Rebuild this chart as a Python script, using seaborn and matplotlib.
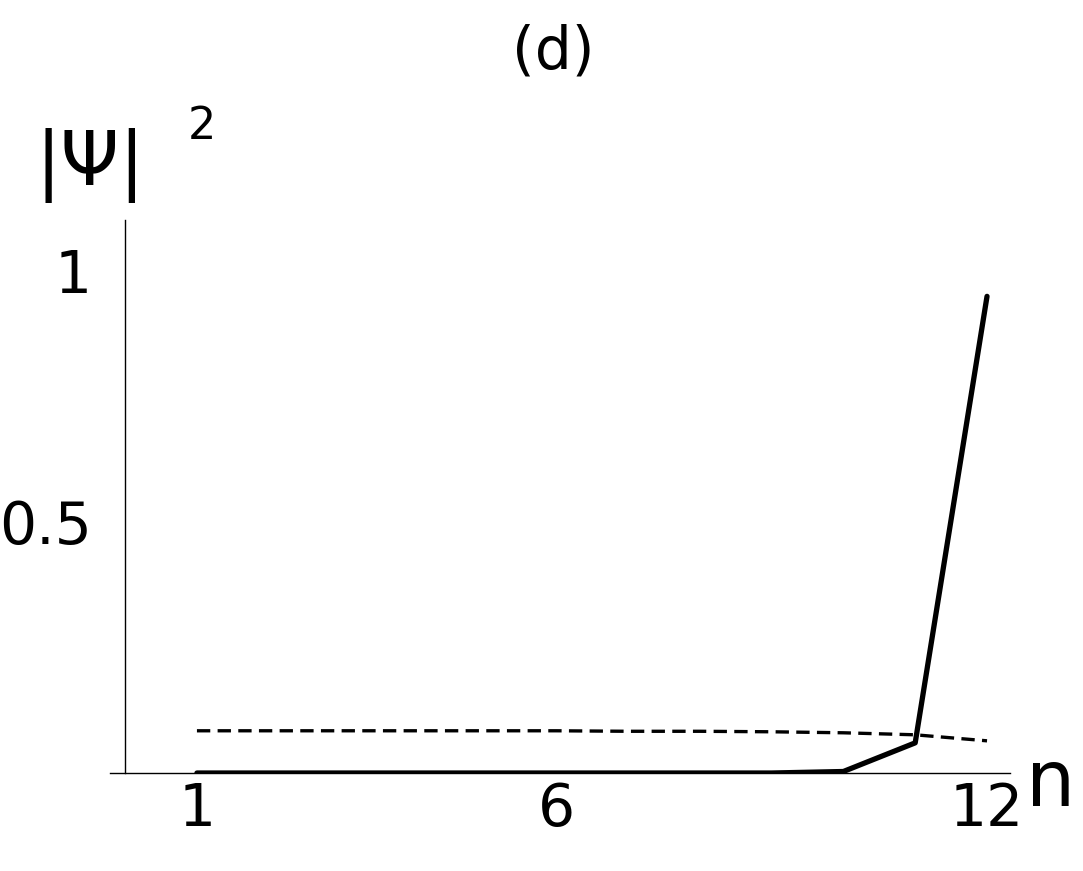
import matplotlib
matplotlib.use("Agg")
import matplotlib.pyplot as plt
import seaborn as sns
import pandas as pd

n = list(range(1, 13))
solid = [0, 0, 0, 0, 0, 0, 0, 0, 0, 0.003, 0.06, 0.948]
dashed = [0.084, 0.084, 0.084, 0.084, 0.084, 0.084, 0.083, 0.083, 0.082, 0.080, 0.076, 0.064]

sns.set_style("white")
plt.rcParams['font.family'] = ['DejaVu Sans']
plt.rcParams['text.color'] = 'black'
fig = plt.figure(figsize=(10.83, 8.71), dpi=100)
ax = fig.add_axes([0.1016, 0.1125, 0.831, 0.635])
df = pd.DataFrame({"n": n, "solid": solid, "dashed": dashed})
sns.lineplot(data=df, x="n", y="dashed", ax=ax, color="black", lw=2.4, linestyle=(0, (4, 2.2)))
sns.lineplot(data=df, x="n", y="solid", ax=ax, color="black", lw=3.8)
ax.set_xlim(-0.21, 12.32)
ax.set_ylim(0, 1.10)
for s in ["top", "right"]:
    ax.spines[s].set_visible(False)
ax.spines["left"].set_position(("data", 0))
for s in ["left", "bottom"]:
    ax.spines[s].set_linewidth(1)
    ax.spines[s].set_color("black")
ax.set_xticks([1, 6, 12])
ax.set_xticklabels(["1", "6", "12"])
ax.set_yticks([0.5, 1])
ax.set_yticklabels(["0.5", "1"])
ax.tick_params(direction="in", length=7, width=1, labelsize=42, colors="black", pad=6)
ax.tick_params(axis="y", pad=24)
ax.set_xlabel("")
ax.set_ylabel("")
fig.text(0.511, 0.94, "(d)", ha="center", va="center", fontsize=42, color="black")
fig.text(0.033, 0.81, "|Ψ|", ha="left", va="center", fontsize=54, color="black")
fig.text(0.173, 0.855, "2", ha="left", va="center", fontsize=32, color="black")
fig.text(0.97, 0.10, "n", ha="center", va="center", fontsize=56, color="black")
fig.savefig("out.png", dpi=100)
